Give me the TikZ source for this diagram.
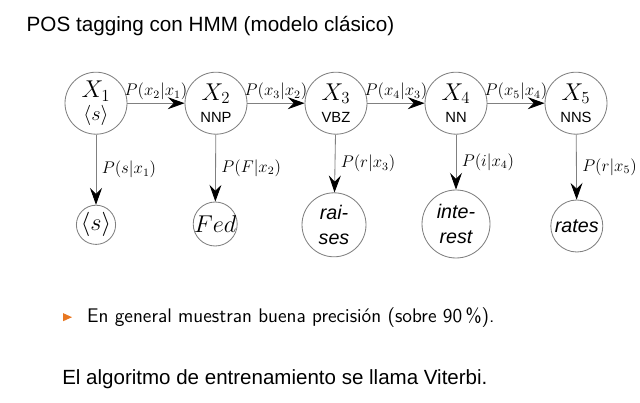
\documentclass[tikz,border=0pt]{standalone}
\usepackage{fontspec}
\setmainfont{Liberation Sans}
\usepackage{tikz}
\usetikzlibrary{arrows.meta,positioning}
\definecolor{bulletorange}{RGB}{232,119,34}
\newcommand{\postag}[1]{{\fontsize{10.5}{12}\selectfont #1}}

\begin{document}
\begin{tikzpicture}[
hid/.style={draw=gray,line width=0.6pt,circle,minimum size=1.55cm,inner sep=0pt,align=center,font=\fontsize{17}{16}\selectfont},
obs/.style={draw=gray,line width=0.6pt,circle,inner sep=0pt,align=center,font=\fontsize{14}{18}\selectfont\itshape},
arr/.style={-{Stealth[length=4.2mm,width=3mm,inset=1.5mm,black]},gray,line width=0.6pt},
lab/.style={text=black,font=\fontsize{11.5}{13}\selectfont,inner sep=1pt}]
\useasboundingbox (0,0) rectangle (16,-10.05);
\node[anchor=base west,inner sep=0pt,font=\fontsize{14.7}{17}\selectfont] (title) at (0.66,-0.78) {POS tagging con HMM (modelo clásico)};
% hidden states
\node[hid] (x1) at (2.4,-2.58) {$X_1$\\{\fontsize{14}{14}\selectfont$\langle s\rangle$}};
\node[hid] (x2) at (5.4,-2.58) {$X_2$\\\postag{NNP}};
\node[hid] (x3) at (8.4,-2.58) {$X_3$\\\postag{VBZ}};
\node[hid] (x4) at (11.4,-2.58) {$X_4$\\\postag{NN}};
\node[hid] (x5) at (14.4,-2.58) {$X_5$\\\postag{NNS}};
% observed words
\node[obs,minimum size=0.98cm,inner sep=-3pt,font=\fontsize{17}{17}\selectfont] (o1) at (2.4,-5.62) {$\langle s\rangle$};
\node[obs,minimum size=1.1cm,inner sep=-3pt,font=\fontsize{17}{17}\selectfont] (o2) at (5.38,-5.6) {$Fed$};
\node[obs,minimum size=1.6cm] (o3) at (8.35,-5.62) {rai-\\ses};
\node[obs,minimum size=1.7cm] (o4) at (11.4,-5.6) {inte-\\rest};
\node[obs,minimum size=1.3cm] (o5) at (14.42,-5.65) {rates};
\draw[arr] (x1)--node[above=0.3mm,lab]{$P(x_2|x_1)$}(x2);
\draw[arr] (x2)--node[above=0.3mm,lab]{$P(x_3|x_2)$}(x3);
\draw[arr] (x3)--node[above=0.3mm,lab]{$P(x_4|x_3)$}(x4);
\draw[arr] (x4)--node[above=0.3mm,lab]{$P(x_5|x_4)$}(x5);
\draw[arr] (x1)--node[right=1mm,lab]{$P(s|x_1)$}(o1);
\draw[arr] (x2)--node[right=1mm,lab]{$P(F|x_2)$}(o2);
\draw[arr] (x3)--node[right=1mm,lab]{$P(r|x_3)$}(o3);
\draw[arr] (x4)--node[right=1mm,lab]{$P(i|x_4)$}(o4);
\draw[arr] (x5)--node[right=1mm,lab]{$P(r|x_5)$}(o5);
% bullet and closing line
\fill[bulletorange] (1.58,-7.83)--(1.8,-7.93)--(1.58,-8.03)--cycle;
\node[anchor=base west,inner sep=0pt,font=\sffamily\fontsize{14}{16}\selectfont] (item) at (2.17,-8.05) {En general muestran buena precisión (sobre 90\,\%).};
\node[anchor=base west,inner sep=0pt,font=\fontsize{14.6}{17}\selectfont] (viterbi) at (1.55,-9.62) {El algoritmo de entrenamiento se llama Viterbi.};
\end{tikzpicture}
\end{document}
